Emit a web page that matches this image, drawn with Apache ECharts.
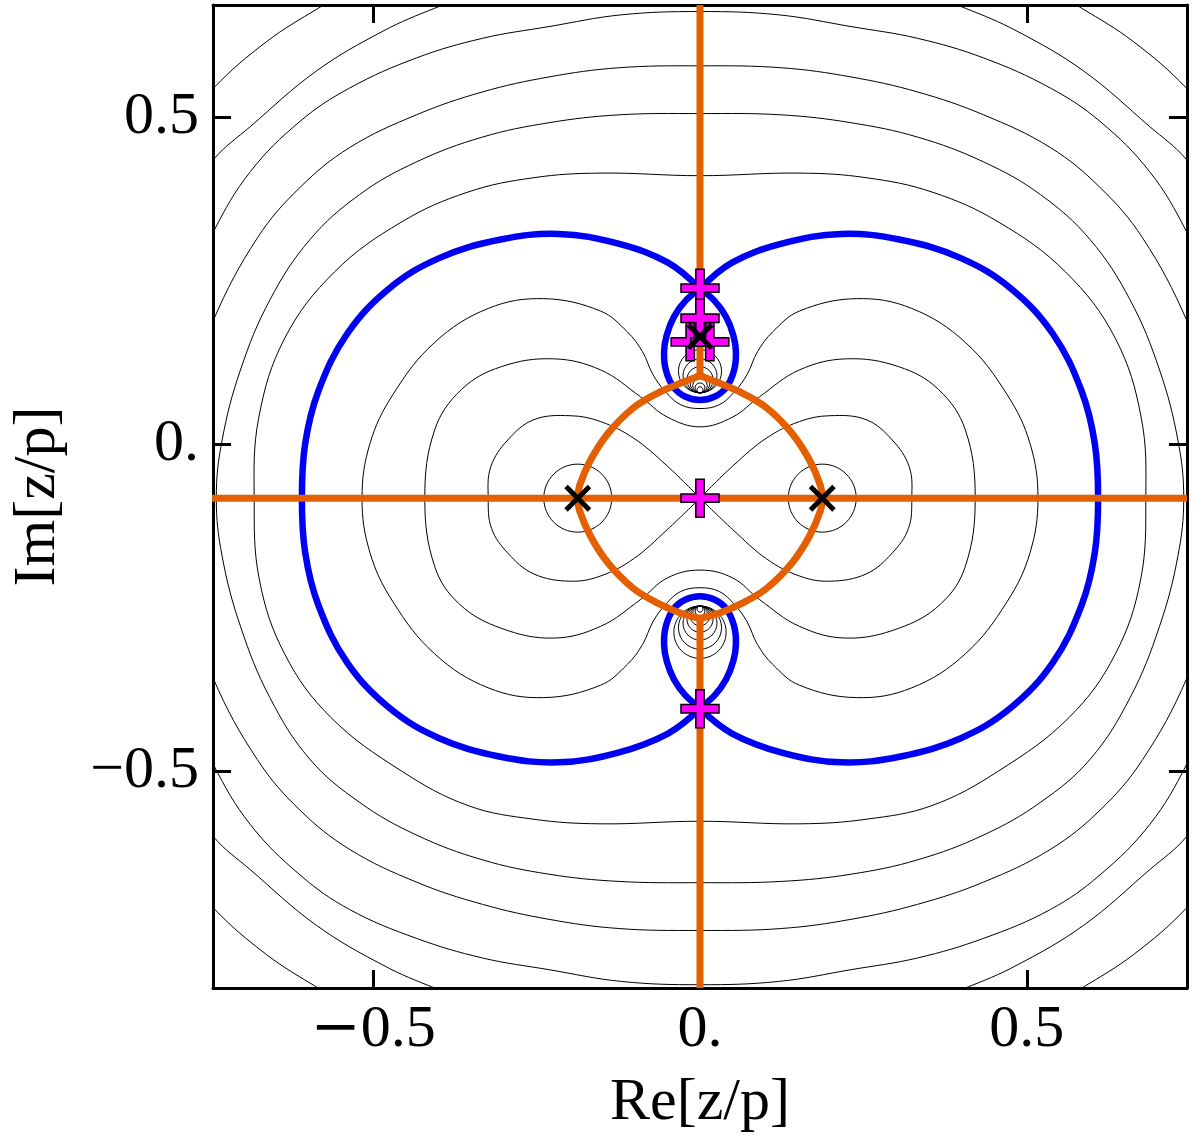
<!DOCTYPE html>
<html>
<head>
<meta charset="utf-8">
<style>
  html, body { margin: 0; padding: 0; background: #fff; }
  #chart { width: 1194px; height: 1144px; }
</style>
<script src="https://cdn.jsdelivr.net/npm/echarts@6/dist/echarts.min.js"></script>
</head>
<body>
<div id="chart"></div>
<script>
  // plot window and tick positions
  const X_RANGE = [-0.745, 0.745];
  const Y_RANGE = [-0.832, 0.671];
  const tickValues = [-0.5, 0, 0.5];

  // thin contour lines, right half only (x >= 0);
  // the plot is mirror symmetric in x so the left half is the mirror image
  const lobe8 = [[0, -0.083], [0.050, -0.034], [0.102, 0.009], [0.152, 0.034], [0.198, 0.043], [0.254, 0.037], [0.294, 0.006], [0.320, -0.035], [0.324, -0.083], [0.319, -0.129], [0.294, -0.167], [0.254, -0.199], [0.198, -0.210], [0.152, -0.202], [0.102, -0.176], [0.050, -0.131], [0, -0.083]];
  const peanut1 = [[0, 0.026], [0.050, 0.041], [0.091, 0.072], [0.152, 0.113], [0.224, 0.130], [0.304, 0.118], [0.365, 0.083], [0.406, 0.021], [0.421, -0.083], [0.406, -0.187], [0.368, -0.245], [0.304, -0.282], [0.224, -0.297], [0.152, -0.279], [0.091, -0.238], [0.050, -0.205], [0, -0.193]];
  const peanut2 = [[0, 0.054], [0.030, 0.060], [0.053, 0.080], [0.072, 0.106], [0.088, 0.141], [0.111, 0.171], [0.152, 0.203], [0.239, 0.222], [0.324, 0.207], [0.406, 0.155], [0.470, 0.075], [0.505, 0.0], [0.517, -0.083], [0.505, -0.166], [0.470, -0.241], [0.406, -0.321], [0.324, -0.373], [0.239, -0.388], [0.152, -0.369], [0.111, -0.337], [0.088, -0.307], [0.072, -0.272], [0.053, -0.246], [0.030, -0.226], [0, -0.220]];
  const ring4 = [[0, 0.410], [0.152, 0.414], [0.254, 0.407], [0.355, 0.385], [0.457, 0.339], [0.559, 0.263], [0.635, 0.162], [0.675, 0.040], [0.682, -0.083], [0.674, -0.208], [0.635, -0.322], [0.565, -0.418], [0.457, -0.500], [0.355, -0.553], [0.254, -0.574], [0.152, -0.581], [0, -0.577]];
  const ring3 = [[0, 0.505], [0.125, 0.503], [0.231, 0.491], [0.333, 0.469], [0.434, 0.431], [0.521, 0.381], [0.597, 0.312], [0.658, 0.220], [0.703, 0.113], [0.731, 0.006], [0.740, -0.083], [0.731, -0.172], [0.703, -0.279], [0.658, -0.388], [0.597, -0.482], [0.521, -0.548], [0.434, -0.598], [0.333, -0.636], [0.231, -0.658], [0.125, -0.669], [0, -0.671]];
  const ring2 = [[0, 0.578], [0.125, 0.575], [0.231, 0.561], [0.333, 0.538], [0.434, 0.503], [0.536, 0.453], [0.612, 0.392], [0.677, 0.315], [0.744, 0.190], [0.780, 0.080], [0.795, -0.083], [0.780, -0.246], [0.744, -0.360], [0.677, -0.483], [0.612, -0.560], [0.536, -0.620], [0.434, -0.670], [0.333, -0.704], [0.231, -0.727], [0.125, -0.741], [0, -0.744]];
  const ring1 = [[0, 0.661], [0.120, 0.656], [0.231, 0.638], [0.333, 0.620], [0.434, 0.590], [0.536, 0.544], [0.612, 0.493], [0.688, 0.416], [0.744, 0.325], [0.800, 0.200], [0.840, 0.050], [0.850, -0.083], [0.840, -0.216], [0.800, -0.366], [0.744, -0.491], [0.688, -0.582], [0.612, -0.659], [0.536, -0.712], [0.434, -0.756], [0.333, -0.786], [0.231, -0.804], [0.120, -0.822], [0, -0.827]];
  const ring0 = [[0, 0.745], [0.200, 0.727], [0.330, 0.693], [0.406, 0.666], [0.485, 0.631], [0.587, 0.570], [0.688, 0.485], [0.744, 0.435], [0.820, 0.330], [0.880, 0.180], [0.905, -0.083], [0.880, -0.346], [0.820, -0.496], [0.744, -0.601], [0.688, -0.651], [0.587, -0.736], [0.485, -0.797], [0.406, -0.832], [0.330, -0.859], [0.200, -0.893], [0, -0.911]];
  const ringOut = [[0, 0.840], [0.300, 0.800], [0.450, 0.745], [0.584, 0.666], [0.663, 0.615], [0.744, 0.544], [0.850, 0.420], [0.940, 0.200], [0.970, -0.083], [0.940, -0.366], [0.850, -0.586], [0.744, -0.710], [0.663, -0.781], [0.584, -0.832], [0.450, -0.911], [0.300, -0.966], [0, -1.006]];

  // small closed contours: [cx, cy, r]
  const xRings = [[0.187, -0.083, 0.052], [-0.187, -0.083, 0.052]];
  const upperNest = [[0, 0.0826, 0.0046], [0, 0.0856, 0.0076], [0, 0.0890, 0.0110], [0, 0.0930, 0.0150], [0, 0.0980, 0.0200], [0, 0.1040, 0.0260], [0, 0.1110, 0.0330]];
  const lowerNest = [[0, -0.2526, 0.0046], [0, -0.2556, 0.0076], [0, -0.2590, 0.0110], [0, -0.2630, 0.0150], [0, -0.2680, 0.0200], [0, -0.2740, 0.0260], [0, -0.2810, 0.0330], [0, -0.2880, 0.0400]];

  // blue level curve through the saddles (right half)
  const blueBig = [[0, 0.237], [0.049, 0.277], [0.125, 0.306], [0.216, 0.321], [0.307, 0.312], [0.399, 0.284], [0.475, 0.238], [0.540, 0.168], [0.584, 0.080], [0.604, 0.0], [0.609, -0.083], [0.604, -0.166], [0.584, -0.246], [0.540, -0.334], [0.475, -0.404], [0.399, -0.450], [0.307, -0.478], [0.216, -0.487], [0.125, -0.472], [0.049, -0.443], [0, -0.405]];
  const blueTop = [[0, 0.237], [0.022, 0.219], [0.040, 0.194], [0.051, 0.166], [0.055, 0.140], [0.052, 0.112], [0.040, 0.086], [0.022, 0.072], [0, 0.067]];
  const blueBottom = [[0, -0.403], [0.022, -0.385], [0.040, -0.360], [0.051, -0.332], [0.055, -0.306], [0.052, -0.278], [0.040, -0.252], [0.022, -0.238], [0, -0.233]];

  // orange paths
  const orangeOval = [[0, 0.104], [0.029, 0.093], [0.064, 0.078], [0.102, 0.055], [0.140, 0.017], [0.167, -0.024], [0.184, -0.063], [0.187, -0.083], [0.184, -0.103], [0.167, -0.142], [0.140, -0.183], [0.102, -0.221], [0.064, -0.244], [0.029, -0.259], [0, -0.267]];
  const orangeUp = [[0, 0.70], [0, 0.104]];
  const orangeDown = [[0, -0.267], [0, -0.90]];
  const orangeFlat = [[-0.80, -0.083], [0.80, -0.083]];

  // markers
  const plusMarks = [[0, 0.238], [0, 0.192], [-0.015, 0.156], [0.015, 0.156], [0, -0.083], [0, -0.405]];
  const crossMarks = [[-0.187, -0.083], [0.187, -0.083], [0, 0.164]];

  const FONT = 'Liberation Serif';
  const BLUE = '#0000f5';
  const ORANGE = '#e35f00';

  function mirror(half) {
    return half.map(p => [-p[0], p[1]]);
  }
  // closed contour crossing x = 0 smoothly at top and bottom
  function closedLoop(half) {
    return half.concat(mirror(half).slice(1, -1).reverse());
  }
  // loop that starts and ends on a saddle (corner kept there)
  function saddleLoop(half) {
    return half.concat(mirror(half).reverse().slice(1));
  }

  // every path: { pts, closed, smooth }
  const thinPaths = [];
  [peanut1, peanut2, ring4, ring3, ring2, ring1, ring0, ringOut].forEach(h => {
    thinPaths.push({ pts: closedLoop(h), closed: true });
  });
  thinPaths.push({ pts: lobe8 }, { pts: mirror(lobe8) });

  const bluePaths = [
    { pts: blueBig }, { pts: mirror(blueBig) },
    { pts: saddleLoop(blueTop) }, { pts: saddleLoop(blueBottom) },
  ];
  const orangePaths = [
    { pts: orangeOval }, { pts: mirror(orangeOval) },
    { pts: orangeUp, smooth: 0 }, { pts: orangeDown, smooth: 0 }, { pts: orangeFlat, smooth: 0 },
  ];

  function pathSeries(paths, color, width, z) {
    return {
      type: 'custom',
      coordinateSystem: 'cartesian2d',
      clip: true,
      silent: true,
      z: z,
      data: paths.map(() => [0, 0]),
      renderItem: (params, api) => {
        const p = paths[params.dataIndex];
        return {
          type: p.closed ? 'polygon' : 'polyline',
          shape: { points: p.pts.map(q => api.coord(q)), smooth: p.smooth == null ? 0.38 : p.smooth },
          style: { fill: 'none', stroke: color, lineWidth: width, lineJoin: 'round' },
        };
      },
    };
  }

  function ringItem(params, api) {
    const c = api.coord([api.value(0), api.value(1)]);
    const s = api.size([api.value(2), api.value(2)]);
    return {
      type: 'ellipse',
      shape: { cx: c[0], cy: c[1], rx: s[0], ry: s[1] },
      style: { fill: 'none', stroke: '#000', lineWidth: 1 },
    };
  }

  const yTickLabel = v => (v === 0 ? '0.' : v < 0 ? '\u2212' + Math.abs(v) : String(v));
  const xTickLabel = v => (v === 0 ? '0.' : v < 0 ? '{m|\u2212}' + Math.abs(v) : String(v));

  const frame = { show: true, onZero: false, lineStyle: { color: '#000', width: 3 } };
  const ticks = { show: true, inside: true, length: 18, customValues: tickValues, lineStyle: { color: '#000', width: 3 } };

  const series = [
    pathSeries(thinPaths, '#000', 1, 1),
    {
      type: 'custom',
      renderItem: ringItem,
      data: xRings.concat(upperNest, lowerNest),
      encode: { x: 0, y: 1 },
      silent: true,
      z: 1,
    },
    pathSeries(bluePaths, BLUE, 6.5, 2),
    pathSeries(orangePaths, ORANGE, 7, 3),
    {
      type: 'scatter',
      data: plusMarks,
      symbol: 'path://M7.8,0 H12.2 V7.8 H20 V12.2 H12.2 V20 H7.8 V12.2 H0 V7.8 H7.8 Z',
      symbolSize: 38,
      silent: true,
      z: 4,
      itemStyle: { color: '#ff00ff', borderColor: '#000', borderWidth: 1.5, opacity: 1 },
    },
    {
      type: 'scatter',
      data: crossMarks,
      symbol: 'path://M0,2.6 L2.6,0 L10,7.4 L17.4,0 L20,2.6 L12.6,10 L20,17.4 L17.4,20 L10,12.6 L2.6,20 L0,17.4 L7.4,10 Z',
      symbolSize: 27,
      silent: true,
      z: 5,
      itemStyle: { color: '#000', opacity: 1 },
    },
  ];

  const chart = echarts.init(document.getElementById('chart'), null, { renderer: 'canvas' });
  chart.setOption({
    animation: false,
    backgroundColor: '#fff',
    grid: { left: 207, right: 7, top: 5, bottom: 156 },
    xAxis: [
      {
        type: 'value',
        min: X_RANGE[0],
        max: X_RANGE[1],
        position: 'bottom',
        axisLine: frame,
        axisTick: ticks,
        splitLine: { show: false },
        axisLabel: {
          customValues: tickValues,
          formatter: xTickLabel,
          fontFamily: FONT,
          fontSize: 60,
          color: '#000',
          margin: 12,
          rich: { m: { fontFamily: 'DejaVu Serif', fontSize: 60, color: '#000' } },
        },
        name: 'Re[z/p]',
        nameLocation: 'middle',
        nameGap: 85,
        nameTextStyle: { fontFamily: FONT, fontSize: 60, color: '#000' },
      },
      {
        type: 'value',
        min: X_RANGE[0],
        max: X_RANGE[1],
        position: 'top',
        axisLine: frame,
        axisTick: ticks,
        splitLine: { show: false },
        axisLabel: { show: false },
      },
    ],
    yAxis: [
      {
        type: 'value',
        min: Y_RANGE[0],
        max: Y_RANGE[1],
        position: 'left',
        axisLine: frame,
        axisTick: ticks,
        splitLine: { show: false },
        axisLabel: {
          customValues: tickValues,
          formatter: yTickLabel,
          fontFamily: FONT,
          fontSize: 60,
          color: '#000',
          margin: 14,
        },
        name: 'Im[z/p]',
        nameLocation: 'middle',
        nameGap: 145,
        nameTextStyle: { fontFamily: FONT, fontSize: 60, color: '#000' },
      },
      {
        type: 'value',
        min: Y_RANGE[0],
        max: Y_RANGE[1],
        position: 'right',
        axisLine: frame,
        axisTick: ticks,
        splitLine: { show: false },
        axisLabel: { show: false },
      },
    ],
    series: series,
  });
</script>
</body>
</html>
